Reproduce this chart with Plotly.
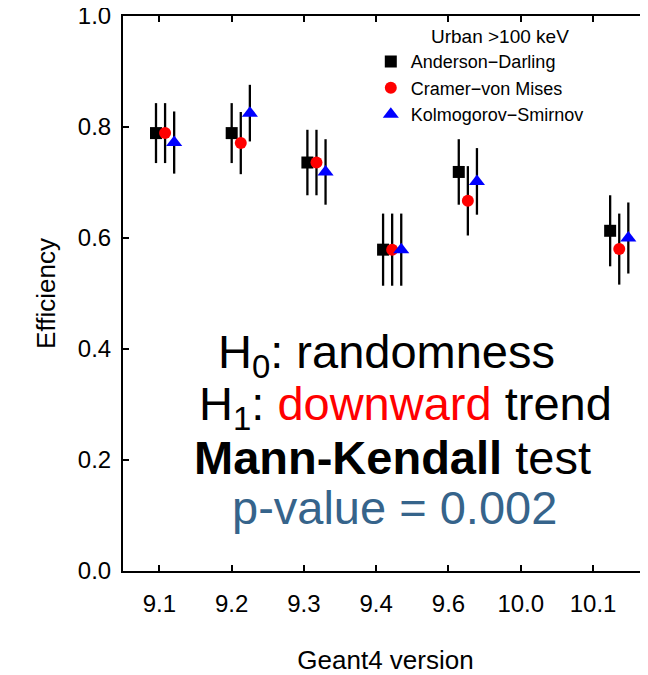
import plotly.graph_objects as go

versions = ["9.1", "9.2", "9.3", "9.4", "9.6", "10.0", "10.1"]
ad = [0.789, 0.789, 0.736, 0.579, 0.719, None, 0.613]
ad_err = [0.054, 0.054, 0.059, 0.065, 0.059, None, 0.064]
cvm = [0.789, 0.771, 0.736, 0.579, 0.667, None, 0.580]
cvm_err = [0.054, 0.056, 0.059, 0.065, 0.0625, None, 0.064]
ks = [0.772, 0.825, 0.719, 0.579, 0.702, None, 0.600]
ks_err = [0.056, 0.051, 0.059, 0.065, 0.060, None, 0.064]
series_names = ["Anderson\u2212Darling", "Cramer\u2212von Mises", "Kolmogorov\u2212Smirnov"]
y_ticks = [0.0, 0.2, 0.4, 0.6, 0.8, 1.0]

FONT = "Liberation Sans, Arial, Helvetica, sans-serif"
series = [
    (series_names[0], ad, ad_err, "square", "black", 12, 0.0),
    (series_names[1], cvm, cvm_err, "circle", "red", 12, 0.12),
    (series_names[2], ks, ks_err, "triangle-up", "blue", 14, 0.24),
]

fig = go.Figure()
for name, vals, errs, sym, col, size, off in series:
    xs, ys, es = [], [], []
    for i, (v, e) in enumerate(zip(vals, errs)):
        if v is None:
            continue
        xs.append(i + off)
        ys.append(v)
        es.append(e)
    fig.add_trace(go.Scatter(
        x=xs, y=ys, mode="markers", name=name,
        marker=dict(symbol=sym, color=col, size=size, line=dict(width=0)),
        error_y=dict(type="data", array=es, visible=True, color="black",
                     thickness=2.3, width=0),
    ))

# tick positions of the version axis (slightly compressed vs. data spacing)
t0, ts = 0.044, 0.955
tickvals = [t0 + i * ts for i in range(len(versions))]

# the page body has an 8px margin: the figure is sized to fill the rest
fig.update_layout(
    width=640, height=667,
    margin=dict(l=115, r=0, t=8, b=104, autoexpand=False),
    paper_bgcolor="white", plot_bgcolor="white",
    font=dict(family=FONT, color="black", size=24),
    showlegend=True,
    legend=dict(x=0.472, y=0.951, xanchor="left", yanchor="top",
                font=dict(size=18), bgcolor="rgba(0,0,0,0)",
                tracegroupgap=0, itemsizing="trace"),
    xaxis=dict(range=[-0.436, 6.5], tickvals=tickvals, ticktext=versions,
               showline=True, linewidth=2, linecolor="black", mirror="ticks",
               ticks="inside", ticklen=6, tickwidth=1.5, tickcolor="black",
               showgrid=False, zeroline=False, ticklabeloverflow="allow",
               automargin=False,
               tickfont=dict(size=24), ticklabelstandoff=10,
               title=dict(text="Geant4 version", font=dict(size=26), standoff=36)),
    yaxis=dict(range=[0, 1], tickvals=y_ticks, tickformat=".1f",
               showline=True, linewidth=2, linecolor="black",
               ticks="inside", ticklen=6, tickwidth=1.5, tickcolor="black",
               showgrid=False, zeroline=False, ticklabeloverflow="allow",
               automargin=False,
               tickfont=dict(size=24), ticklabelstandoff=5,
               title=dict(text="Efficiency", font=dict(size=26), standoff=15)),
)

fig.add_annotation(xref="paper", yref="paper", x=(500 - 123) / 525, y=(571 - 37) / 555,
                   text="Urban >100 keV", showarrow=False, xanchor="center",
                   yanchor="middle", font=dict(size=19))

lines = [
    ("H<sub>0</sub>: randomness", 386, 355),
    ("H<sub>1</sub>: <span style='color:red'>downward</span> trend", 405, 407),
    ("<b>Mann-Kendall</b> test", 392, 457),
    ("<span style='color:#36648B'>p-value = 0.002</span>", 394, 507),
]
for txt, xpix, ypix in lines:
    fig.add_annotation(xref="paper", yref="paper", x=(xpix - 123) / 525,
                       y=(571 - ypix) / 555, text=txt, showarrow=False,
                       xanchor="center", yanchor="middle", font=dict(size=47))

fig.write_html("out.html")
